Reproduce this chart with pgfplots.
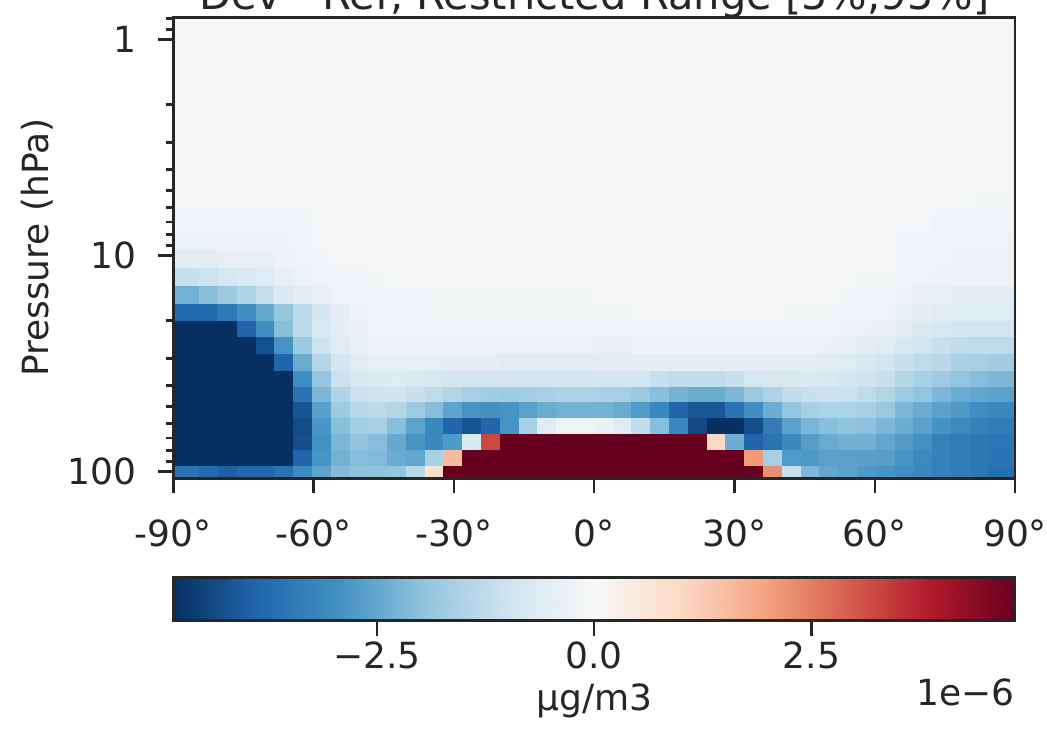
\documentclass[border=0pt]{standalone}
\usepackage{fontspec}
\setmainfont{DejaVu Sans}
\usepackage{pgfplots}
\pgfplotsset{compat=1.18}
\definecolor{ax}{HTML}{262626}
\newcommand\fs{\fontsize{18}{21.6}\selectfont}
\newcommand\ft{\fontsize{20.8}{25}\selectfont}
\pgfplotsset{colormap={rdbur}{rgb255=(5,48,97) rgb255=(33,102,172) rgb255=(67,147,195) rgb255=(146,197,222) rgb255=(209,229,240) rgb255=(247,247,247) rgb255=(253,219,199) rgb255=(244,165,130) rgb255=(214,96,77) rgb255=(178,24,43) rgb255=(103,0,31)}}
\begin{document}
\begin{tikzpicture}
\begin{axis}[
  at={(0,0)}, anchor=south west,
  scale only axis, width=420.9pt, height=230.5pt,
  xmin=-90, xmax=90,
  ymode=log, ymin=0.79, ymax=107.7, y dir=reverse,
  xtick={-90,-60,-30,0,30,60,90},
  xticklabels={-90°,-60°,-30°,0°,30°,60°,90°},
  ytick={1,10,100}, yticklabels={1,10,100},
  minor ytick={0.8,0.9,2,3,4,5,6,7,8,9,20,30,40,50,60,70,80,90},
  xtick pos=bottom, ytick pos=left,
  tick align=outside,
  major tick length=7.5pt, minor tick length=3.8pt,
  every tick/.style={line width=1.25pt, ax},
  axis line style={line width=1.3pt, ax},
  axis on top,
  tick label style={font=\fs, text=ax},
  xticklabel style={yshift=-9.5pt},
  yticklabel style={xshift=-7.5pt},
  ylabel={Pressure (hPa)},
  every axis y label/.style={at={(axis description cs:-0.162,0.5)}, rotate=90, anchor=center, font=\fs, text=ax},
  title={Dev - Ref, Restricted Range [5\%,95\%]},
  every axis title/.style={at={(axis description cs:0.5,1)}, anchor=base, yshift=3.7pt, font=\ft, text=ax},
  colormap name=rdbur,
  point meta min=-4.84, point meta max=4.84,
]
\addplot[surf, shader=flat corner, mesh/cols=45, point meta=explicit] table[x=x, y=y, meta=c] {
x y c
-90 107.7 -3.56
-84.4 107.7 -3.78
-80.4 107.7 -4
-76.4 107.7 -3.85
-72.3 107.7 -3.85
-68.3 107.7 -3.62
-64.3 107.7 -3.1
-60.3 107.7 -2.57
-56.3 107.7 -2.12
-52.2 107.7 -1.98
-48.2 107.7 -1.98
-44.2 107.7 -1.94
-40.2 107.7 -1.35
-36.2 107.7 0.76
-32.2 107.7 4.84
-28.1 107.7 4.84
-24.1 107.7 4.84
-20.1 107.7 4.84
-16.1 107.7 4.84
-12.1 107.7 4.84
-8 107.7 4.84
-4 107.7 4.84
0 107.7 4.84
4 107.7 4.84
8 107.7 4.84
12.1 107.7 4.84
16.1 107.7 4.84
20.1 107.7 4.84
24.1 107.7 4.84
28.1 107.7 4.84
32.2 107.7 4.84
36.2 107.7 2.26
40.2 107.7 -1.1
44.2 107.7 -2.2
48.2 107.7 -2.52
52.2 107.7 -2.6
56.3 107.7 -2.75
60.3 107.7 -2.88
64.3 107.7 -3
68.3 107.7 -3.15
72.3 107.7 -3.3
76.4 107.7 -3.42
80.4 107.7 -3.53
84.4 107.7 -3.7
90 107.7 0
-90 93.5 -4.84
-84.4 93.5 -4.84
-80.4 93.5 -4.84
-76.4 93.5 -4.84
-72.3 93.5 -4.84
-68.3 93.5 -4.84
-64.3 93.5 -3.87
-60.3 93.5 -2.88
-56.3 93.5 -2.33
-52.2 93.5 -2.08
-48.2 93.5 -2.15
-44.2 93.5 -2.43
-40.2 93.5 -2.52
-36.2 93.5 -1.58
-32.2 93.5 1.56
-28.1 93.5 4.84
-24.1 93.5 4.84
-20.1 93.5 4.84
-16.1 93.5 4.84
-12.1 93.5 4.84
-8 93.5 4.84
-4 93.5 4.84
0 93.5 4.84
4 93.5 4.84
8 93.5 4.84
12.1 93.5 4.84
16.1 93.5 4.84
20.1 93.5 4.84
24.1 93.5 4.84
28.1 93.5 4.84
32.2 93.5 2.09
36.2 93.5 -1.63
40.2 93.5 -2.76
44.2 93.5 -2.77
48.2 93.5 -2.62
52.2 93.5 -2.62
56.3 93.5 -2.65
60.3 93.5 -2.68
64.3 93.5 -2.88
68.3 93.5 -3.12
72.3 93.5 -3.3
76.4 93.5 -3.42
80.4 93.5 -3.5
84.4 93.5 -3.62
90 93.5 0
-90 79.1 -4.84
-84.4 79.1 -4.84
-80.4 79.1 -4.84
-76.4 79.1 -4.84
-72.3 79.1 -4.84
-68.3 79.1 -4.84
-64.3 79.1 -4.3
-60.3 79.1 -2.95
-56.3 79.1 -2.2
-52.2 79.1 -1.95
-48.2 79.1 -2.08
-44.2 79.1 -2.48
-40.2 79.1 -2.88
-36.2 79.1 -3.15
-32.2 79.1 -2.77
-28.1 79.1 -0.77
-24.1 79.1 3.22
-20.1 79.1 4.84
-16.1 79.1 4.84
-12.1 79.1 4.84
-8 79.1 4.84
-4 79.1 4.84
0 79.1 4.84
4 79.1 4.84
8 79.1 4.84
12.1 79.1 4.84
16.1 79.1 4.84
20.1 79.1 4.84
24.1 79.1 1
28.1 79.1 -2.38
32.2 79.1 -3.87
36.2 79.1 -3.62
40.2 79.1 -3.15
44.2 79.1 -2.68
48.2 79.1 -2.45
52.2 79.1 -2.35
56.3 79.1 -2.35
60.3 79.1 -2.52
64.3 79.1 -2.76
68.3 79.1 -2.95
72.3 79.1 -3.28
76.4 79.1 -3.42
80.4 79.1 -3.5
84.4 79.1 -3.56
90 79.1 0
-90 66.7 -4.84
-84.4 66.7 -4.84
-80.4 66.7 -4.84
-76.4 66.7 -4.84
-72.3 66.7 -4.84
-68.3 66.7 -4.84
-64.3 66.7 -4.36
-60.3 66.7 -2.87
-56.3 66.7 -2.04
-52.2 66.7 -1.66
-48.2 66.7 -1.63
-44.2 66.7 -2.05
-40.2 66.7 -2.58
-36.2 66.7 -3.15
-32.2 66.7 -3.87
-28.1 66.7 -4.2
-24.1 66.7 -3.87
-20.1 66.7 -2.88
-16.1 66.7 -1.58
-12.1 66.7 -0.61
-8 66.7 -0.23
-4 66.7 -0.23
0 66.7 -0.33
4 66.7 -0.61
8 66.7 -1.21
12.1 66.7 -2.08
16.1 66.7 -3.15
20.1 66.7 -4.4
24.1 66.7 -4.84
28.1 66.7 -4.84
32.2 66.7 -4.3
36.2 66.7 -3.42
40.2 66.7 -2.62
44.2 66.7 -2.23
48.2 66.7 -2.04
52.2 66.7 -1.95
56.3 66.7 -2
60.3 66.7 -2.2
64.3 66.7 -2.43
68.3 66.7 -2.62
72.3 66.7 -2.9
76.4 66.7 -3.12
80.4 66.7 -3.28
84.4 66.7 -3.42
90 66.7 0
-90 56.2 -4.84
-84.4 56.2 -4.84
-80.4 56.2 -4.84
-76.4 56.2 -4.84
-72.3 56.2 -4.84
-68.3 56.2 -4.84
-64.3 56.2 -4.2
-60.3 56.2 -2.64
-56.3 56.2 -1.78
-52.2 56.2 -1.36
-48.2 56.2 -1.31
-44.2 56.2 -1.43
-40.2 56.2 -1.75
-36.2 56.2 -2.08
-32.2 56.2 -2.57
-28.1 56.2 -2.88
-24.1 56.2 -2.97
-20.1 56.2 -2.88
-16.1 56.2 -2.62
-12.1 56.2 -2.43
-8 56.2 -2.32
-4 56.2 -2.32
0 56.2 -2.3
4 56.2 -2.45
8 56.2 -2.76
12.1 56.2 -3.15
16.1 56.2 -3.87
20.1 56.2 -4.15
24.1 56.2 -4.15
28.1 56.2 -3.62
32.2 56.2 -3
36.2 56.2 -2.38
40.2 56.2 -1.9
44.2 56.2 -1.6
48.2 56.2 -1.52
52.2 56.2 -1.52
56.3 56.2 -1.6
60.3 56.2 -1.81
64.3 56.2 -2.2
68.3 56.2 -2.43
72.3 56.2 -2.62
76.4 56.2 -2.77
80.4 56.2 -3
84.4 56.2 -3.15
90 56.2 0
-90 47.6 -4.84
-84.4 47.6 -4.84
-80.4 47.6 -4.84
-76.4 47.6 -4.84
-72.3 47.6 -4.84
-68.3 47.6 -4.84
-64.3 47.6 -3.62
-60.3 47.6 -2.2
-56.3 47.6 -1.46
-52.2 47.6 -1.05
-48.2 47.6 -0.97
-44.2 47.6 -0.98
-40.2 47.6 -1.1
-36.2 47.6 -1.24
-32.2 47.6 -1.43
-28.1 47.6 -1.6
-24.1 47.6 -1.7
-20.1 47.6 -1.75
-16.1 47.6 -1.68
-12.1 47.6 -1.58
-8 47.6 -1.55
-4 47.6 -1.55
0 47.6 -1.58
4 47.6 -1.63
8 47.6 -1.81
12.1 47.6 -2.04
16.1 47.6 -2.3
20.1 47.6 -2.43
24.1 47.6 -2.43
28.1 47.6 -2.2
32.2 47.6 -1.81
36.2 47.6 -1.5
40.2 47.6 -1.21
44.2 47.6 -1.1
48.2 47.6 -1.05
52.2 47.6 -1.08
56.3 47.6 -1.25
60.3 47.6 -1.43
64.3 47.6 -1.75
68.3 47.6 -1.94
72.3 47.6 -2.2
76.4 47.6 -2.43
80.4 47.6 -2.52
84.4 47.6 -2.6
90 47.6 0
-90 40.5 -4.84
-84.4 40.5 -4.84
-80.4 40.5 -4.84
-76.4 40.5 -4.84
-72.3 40.5 -4.84
-68.3 40.5 -4.84
-64.3 40.5 -3.03
-60.3 40.5 -1.9
-56.3 40.5 -1.08
-52.2 40.5 -0.8
-48.2 40.5 -0.69
-44.2 40.5 -0.66
-40.2 40.5 -0.7
-36.2 40.5 -0.84
-32.2 40.5 -0.91
-28.1 40.5 -0.91
-24.1 40.5 -0.91
-20.1 40.5 -0.94
-16.1 40.5 -0.94
-12.1 40.5 -0.94
-8 40.5 -0.91
-4 40.5 -0.91
0 40.5 -0.88
4 40.5 -0.88
8 40.5 -0.9
12.1 40.5 -1.13
16.1 40.5 -1.21
20.1 40.5 -1.21
24.1 40.5 -1.21
28.1 40.5 -1.1
32.2 40.5 -0.86
36.2 40.5 -0.8
40.2 40.5 -0.75
44.2 40.5 -0.71
48.2 40.5 -0.75
52.2 40.5 -0.88
56.3 40.5 -1
60.3 40.5 -1.13
64.3 40.5 -1.43
68.3 40.5 -1.58
72.3 40.5 -1.75
76.4 40.5 -1.92
80.4 40.5 -2.08
84.4 40.5 -2.2
90 40.5 0
-90 34 -4.84
-84.4 34 -4.84
-80.4 34 -4.84
-76.4 34 -4.84
-72.3 34 -4.84
-68.3 34 -3.87
-64.3 34 -2.43
-60.3 34 -1.41
-56.3 34 -0.89
-52.2 34 -0.56
-48.2 34 -0.44
-44.2 34 -0.44
-40.2 34 -0.44
-36.2 34 -0.44
-32.2 34 -0.48
-28.1 34 -0.48
-24.1 34 -0.48
-20.1 34 -0.52
-16.1 34 -0.52
-12.1 34 -0.52
-8 34 -0.55
-4 34 -0.55
0 34 -0.48
4 34 -0.48
8 34 -0.48
12.1 34 -0.48
16.1 34 -0.48
20.1 34 -0.48
24.1 34 -0.48
28.1 34 -0.46
32.2 34 -0.46
36.2 34 -0.46
40.2 34 -0.46
44.2 34 -0.46
48.2 34 -0.55
52.2 34 -0.65
56.3 34 -0.8
60.3 34 -0.94
64.3 34 -1.13
68.3 34 -1.26
72.3 34 -1.36
76.4 34 -1.58
80.4 34 -1.63
84.4 34 -1.71
90 34 0
-90 28.4 -4.84
-84.4 28.4 -4.84
-80.4 28.4 -4.84
-76.4 28.4 -4.84
-72.3 28.4 -4.25
-68.3 28.4 -2.88
-64.3 28.4 -1.8
-60.3 28.4 -1
-56.3 28.4 -0.61
-52.2 28.4 -0.41
-48.2 28.4 -0.31
-44.2 28.4 -0.3
-40.2 28.4 -0.3
-36.2 28.4 -0.3
-32.2 28.4 -0.3
-28.1 28.4 -0.3
-24.1 28.4 -0.3
-20.1 28.4 -0.3
-16.1 28.4 -0.3
-12.1 28.4 -0.3
-8 28.4 -0.3
-4 28.4 -0.3
0 28.4 -0.36
4 28.4 -0.36
8 28.4 -0.29
12.1 28.4 -0.29
16.1 28.4 -0.29
20.1 28.4 -0.29
24.1 28.4 -0.29
28.1 28.4 -0.29
32.2 28.4 -0.29
36.2 28.4 -0.29
40.2 28.4 -0.29
44.2 28.4 -0.29
48.2 28.4 -0.33
52.2 28.4 -0.4
56.3 28.4 -0.5
60.3 28.4 -0.61
64.3 28.4 -0.79
68.3 28.4 -0.91
72.3 28.4 -1.13
76.4 28.4 -1.23
80.4 28.4 -1.28
84.4 28.4 -1.28
90 28.4 0
-90 23.6 -4.84
-84.4 23.6 -4.84
-80.4 23.6 -4.84
-76.4 23.6 -3.9
-72.3 23.6 -3
-68.3 23.6 -2.06
-64.3 23.6 -1.29
-60.3 23.6 -0.74
-56.3 23.6 -0.46
-52.2 23.6 -0.33
-48.2 23.6 -0.23
-44.2 23.6 -0.2
-40.2 23.6 -0.2
-36.2 23.6 -0.2
-32.2 23.6 -0.2
-28.1 23.6 -0.2
-24.1 23.6 -0.2
-20.1 23.6 -0.2
-16.1 23.6 -0.2
-12.1 23.6 -0.2
-8 23.6 -0.2
-4 23.6 -0.2
0 23.6 -0.2
4 23.6 -0.2
8 23.6 -0.18
12.1 23.6 -0.18
16.1 23.6 -0.18
20.1 23.6 -0.18
24.1 23.6 -0.18
28.1 23.6 -0.18
32.2 23.6 -0.18
36.2 23.6 -0.18
40.2 23.6 -0.18
44.2 23.6 -0.18
48.2 23.6 -0.22
52.2 23.6 -0.26
56.3 23.6 -0.32
60.3 23.6 -0.38
64.3 23.6 -0.56
68.3 23.6 -0.71
72.3 23.6 -0.79
76.4 23.6 -0.91
80.4 23.6 -0.91
84.4 23.6 -0.91
90 23.6 0
-90 19.9 -3.78
-84.4 19.9 -3.78
-80.4 19.9 -3.48
-76.4 19.9 -3
-72.3 19.9 -2.48
-68.3 19.9 -1.92
-64.3 19.9 -1.32
-60.3 19.9 -0.89
-56.3 19.9 -0.46
-52.2 19.9 -0.31
-48.2 19.9 -0.2
-44.2 19.9 -0.15
-40.2 19.9 -0.15
-36.2 19.9 -0.13
-32.2 19.9 -0.13
-28.1 19.9 -0.13
-24.1 19.9 -0.13
-20.1 19.9 -0.13
-16.1 19.9 -0.13
-12.1 19.9 -0.13
-8 19.9 -0.13
-4 19.9 -0.13
0 19.9 -0.12
4 19.9 -0.12
8 19.9 -0.1
12.1 19.9 -0.1
16.1 19.9 -0.1
20.1 19.9 -0.1
24.1 19.9 -0.1
28.1 19.9 -0.1
32.2 19.9 -0.1
36.2 19.9 -0.1
40.2 19.9 -0.12
44.2 19.9 -0.12
48.2 19.9 -0.13
52.2 19.9 -0.16
56.3 19.9 -0.2
60.3 19.9 -0.23
64.3 19.9 -0.38
68.3 19.9 -0.46
72.3 19.9 -0.56
76.4 19.9 -0.66
80.4 19.9 -0.66
84.4 19.9 -0.66
90 19.9 0
-90 16.6 -2.33
-84.4 16.6 -2.05
-80.4 16.6 -1.81
-76.4 16.6 -1.49
-72.3 16.6 -1.15
-68.3 16.6 -0.74
-64.3 16.6 -0.51
-60.3 16.6 -0.33
-56.3 16.6 -0.23
-52.2 16.6 -0.18
-48.2 16.6 -0.15
-44.2 16.6 -0.14
-40.2 16.6 -0.14
-36.2 16.6 -0.12
-32.2 16.6 -0.12
-28.1 16.6 -0.12
-24.1 16.6 -0.12
-20.1 16.6 -0.12
-16.1 16.6 -0.12
-12.1 16.6 -0.12
-8 16.6 -0.12
-4 16.6 -0.12
0 16.6 -0.1
4 16.6 -0.1
8 16.6 -0.1
12.1 16.6 -0.05
16.1 16.6 -0.05
20.1 16.6 -0.05
24.1 16.6 -0.05
28.1 16.6 -0.05
32.2 16.6 -0.05
36.2 16.6 -0.09
40.2 16.6 -0.09
44.2 16.6 -0.09
48.2 16.6 -0.1
52.2 16.6 -0.12
56.3 16.6 -0.15
60.3 16.6 -0.18
64.3 16.6 -0.28
68.3 16.6 -0.36
72.3 16.6 -0.41
76.4 16.6 -0.48
80.4 16.6 -0.48
84.4 16.6 -0.48
90 16.6 0
-90 13.7 -1.13
-84.4 13.7 -1.03
-80.4 13.7 -0.84
-76.4 13.7 -0.74
-72.3 13.7 -0.58
-68.3 13.7 -0.44
-64.3 13.7 -0.31
-60.3 13.7 -0.23
-56.3 13.7 -0.18
-52.2 13.7 -0.15
-48.2 13.7 -0.13
-44.2 13.7 -0.1
-40.2 13.7 -0.1
-36.2 13.7 -0.1
-32.2 13.7 -0.1
-28.1 13.7 -0.1
-24.1 13.7 -0.1
-20.1 13.7 -0.1
-16.1 13.7 -0.1
-12.1 13.7 -0.1
-8 13.7 -0.1
-4 13.7 -0.1
0 13.7 -0.06
4 13.7 -0.06
8 13.7 -0.06
12.1 13.7 -0.06
16.1 13.7 -0.06
20.1 13.7 -0.06
24.1 13.7 -0.06
28.1 13.7 -0.06
32.2 13.7 -0.06
36.2 13.7 -0.06
40.2 13.7 -0.06
44.2 13.7 -0.06
48.2 13.7 -0.08
52.2 13.7 -0.1
56.3 13.7 -0.12
60.3 13.7 -0.13
64.3 13.7 -0.23
68.3 13.7 -0.23
72.3 13.7 -0.28
76.4 13.7 -0.28
80.4 13.7 -0.28
84.4 13.7 -0.28
90 13.7 0
-90 11.4 -0.5
-84.4 11.4 -0.5
-80.4 11.4 -0.41
-76.4 11.4 -0.36
-72.3 11.4 -0.36
-68.3 11.4 -0.26
-64.3 11.4 -0.2
-60.3 11.4 -0.15
-56.3 11.4 -0.1
-52.2 11.4 -0.1
-48.2 11.4 -0.1
-44.2 11.4 -0.1
-40.2 11.4 -0.1
-36.2 11.4 -0.1
-32.2 11.4 -0.1
-28.1 11.4 -0.1
-24.1 11.4 -0.1
-20.1 11.4 -0.1
-16.1 11.4 -0.1
-12.1 11.4 -0.1
-8 11.4 -0.1
-4 11.4 -0.1
0 11.4 -0.05
4 11.4 -0.05
8 11.4 -0.05
12.1 11.4 -0.05
16.1 11.4 -0.05
20.1 11.4 -0.05
24.1 11.4 -0.05
28.1 11.4 -0.05
32.2 11.4 -0.05
36.2 11.4 -0.05
40.2 11.4 -0.05
44.2 11.4 -0.05
48.2 11.4 -0.07
52.2 11.4 -0.08
56.3 11.4 -0.09
60.3 11.4 -0.1
64.3 11.4 -0.2
68.3 11.4 -0.2
72.3 11.4 -0.2
76.4 11.4 -0.26
80.4 11.4 -0.26
84.4 11.4 -0.26
90 11.4 0
-90 9.35 -0.28
-84.4 9.35 -0.28
-80.4 9.35 -0.25
-76.4 9.35 -0.25
-72.3 9.35 -0.25
-68.3 9.35 -0.25
-64.3 9.35 -0.18
-60.3 9.35 -0.1
-56.3 9.35 -0.1
-52.2 9.35 -0.1
-48.2 9.35 -0.1
-44.2 9.35 -0.07
-40.2 9.35 -0.07
-36.2 9.35 -0.07
-32.2 9.35 -0.07
-28.1 9.35 -0.07
-24.1 9.35 -0.07
-20.1 9.35 -0.07
-16.1 9.35 -0.07
-12.1 9.35 -0.07
-8 9.35 -0.07
-4 9.35 -0.07
0 9.35 -0.05
4 9.35 -0.05
8 9.35 -0.05
12.1 9.35 -0.05
16.1 9.35 -0.05
20.1 9.35 -0.05
24.1 9.35 -0.05
28.1 9.35 -0.05
32.2 9.35 -0.05
36.2 9.35 -0.05
40.2 9.35 -0.05
44.2 9.35 -0.05
48.2 9.35 -0.06
52.2 9.35 -0.07
56.3 9.35 -0.07
60.3 9.35 -0.08
64.3 9.35 -0.15
68.3 9.35 -0.15
72.3 9.35 -0.2
76.4 9.35 -0.2
80.4 9.35 -0.2
84.4 9.35 -0.2
90 9.35 0
-90 7.72 -0.15
-84.4 7.72 -0.15
-80.4 7.72 -0.15
-76.4 7.72 -0.15
-72.3 7.72 -0.15
-68.3 7.72 -0.15
-64.3 7.72 -0.15
-60.3 7.72 -0.08
-56.3 7.72 -0.08
-52.2 7.72 -0.08
-48.2 7.72 -0.08
-44.2 7.72 -0.07
-40.2 7.72 -0.07
-36.2 7.72 -0.07
-32.2 7.72 -0.07
-28.1 7.72 -0.07
-24.1 7.72 -0.07
-20.1 7.72 -0.07
-16.1 7.72 -0.07
-12.1 7.72 -0.07
-8 7.72 -0.07
-4 7.72 -0.07
0 7.72 -0.05
4 7.72 -0.05
8 7.72 -0.05
12.1 7.72 -0.05
16.1 7.72 -0.05
20.1 7.72 -0.05
24.1 7.72 -0.05
28.1 7.72 -0.05
32.2 7.72 -0.05
36.2 7.72 -0.05
40.2 7.72 -0.05
44.2 7.72 -0.05
48.2 7.72 -0.07
52.2 7.72 -0.07
56.3 7.72 -0.07
60.3 7.72 -0.07
64.3 7.72 -0.08
68.3 7.72 -0.1
72.3 7.72 -0.15
76.4 7.72 -0.18
80.4 7.72 -0.18
84.4 7.72 -0.18
90 7.72 0
-90 6.17 -0.07
-84.4 6.17 -0.07
-80.4 6.17 -0.07
-76.4 6.17 -0.07
-72.3 6.17 -0.07
-68.3 6.17 -0.07
-64.3 6.17 -0.07
-60.3 6.17 -0.07
-56.3 6.17 -0.07
-52.2 6.17 -0.07
-48.2 6.17 -0.07
-44.2 6.17 -0.05
-40.2 6.17 -0.05
-36.2 6.17 -0.05
-32.2 6.17 -0.05
-28.1 6.17 -0.05
-24.1 6.17 -0.05
-20.1 6.17 -0.05
-16.1 6.17 -0.05
-12.1 6.17 -0.05
-8 6.17 -0.05
-4 6.17 -0.05
0 6.17 -0.05
4 6.17 -0.05
8 6.17 -0.05
12.1 6.17 -0.05
16.1 6.17 -0.05
20.1 6.17 -0.05
24.1 6.17 -0.05
28.1 6.17 -0.05
32.2 6.17 -0.05
36.2 6.17 -0.05
40.2 6.17 -0.05
44.2 6.17 -0.05
48.2 6.17 -0.05
52.2 6.17 -0.05
56.3 6.17 -0.05
60.3 6.17 -0.05
64.3 6.17 -0.05
68.3 6.17 -0.08
72.3 6.17 -0.08
76.4 6.17 -0.1
80.4 6.17 -0.13
84.4 6.17 -0.13
90 6.17 0
-90 5.09 -0.04
-84.4 5.09 -0.04
-80.4 5.09 -0.04
-76.4 5.09 -0.04
-72.3 5.09 -0.04
-68.3 5.09 -0.04
-64.3 5.09 -0.04
-60.3 5.09 -0.04
-56.3 5.09 -0.04
-52.2 5.09 -0.04
-48.2 5.09 -0.04
-44.2 5.09 -0.04
-40.2 5.09 -0.04
-36.2 5.09 -0.04
-32.2 5.09 -0.04
-28.1 5.09 -0.04
-24.1 5.09 -0.04
-20.1 5.09 -0.04
-16.1 5.09 -0.04
-12.1 5.09 -0.04
-8 5.09 -0.04
-4 5.09 -0.04
0 5.09 -0.04
4 5.09 -0.04
8 5.09 -0.04
12.1 5.09 -0.04
16.1 5.09 -0.04
20.1 5.09 -0.04
24.1 5.09 -0.04
28.1 5.09 -0.04
32.2 5.09 -0.04
36.2 5.09 -0.04
40.2 5.09 -0.04
44.2 5.09 -0.04
48.2 5.09 -0.04
52.2 5.09 -0.04
56.3 5.09 -0.04
60.3 5.09 -0.04
64.3 5.09 -0.04
68.3 5.09 -0.04
72.3 5.09 -0.04
76.4 5.09 -0.04
80.4 5.09 -0.08
84.4 5.09 -0.08
90 5.09 0
-90 0.79 0
-84.4 0.79 0
-80.4 0.79 0
-76.4 0.79 0
-72.3 0.79 0
-68.3 0.79 0
-64.3 0.79 0
-60.3 0.79 0
-56.3 0.79 0
-52.2 0.79 0
-48.2 0.79 0
-44.2 0.79 0
-40.2 0.79 0
-36.2 0.79 0
-32.2 0.79 0
-28.1 0.79 0
-24.1 0.79 0
-20.1 0.79 0
-16.1 0.79 0
-12.1 0.79 0
-8 0.79 0
-4 0.79 0
0 0.79 0
4 0.79 0
8 0.79 0
12.1 0.79 0
16.1 0.79 0
20.1 0.79 0
24.1 0.79 0
28.1 0.79 0
32.2 0.79 0
36.2 0.79 0
40.2 0.79 0
44.2 0.79 0
48.2 0.79 0
52.2 0.79 0
56.3 0.79 0
60.3 0.79 0
64.3 0.79 0
68.3 0.79 0
72.3 0.79 0
76.4 0.79 0
80.4 0.79 0
84.4 0.79 0
90 0.79 0
};
\end{axis}
\begin{axis}[
  name=cb,
  at={(0,-49.6pt)}, anchor=north west,
  scale only axis, width=420.9pt, height=21.5pt,
  xmin=-4.84, xmax=4.84, ymin=0, ymax=1,
  ytick=\empty,
  xtick={-2.5,0,2.5}, xticklabels={−2.5,0.0,2.5},
  xtick pos=bottom, tick align=outside, major tick length=7.5pt,
  every tick/.style={line width=1.25pt, ax},
  axis line style={line width=1.3pt, ax},
  axis on top,
  tick label style={font=\fs, text=ax},
  xticklabel style={yshift=0.5pt},
  colormap name=rdbur,
  point meta min=-4.84, point meta max=4.84,
  xlabel={µg/m3},
  every axis x label/.style={at={(axis description cs:0.5,0)}, anchor=center, yshift=-40pt, font=\fs, text=ax},
]
\addplot[surf, shader=interp, mesh/cols=11, point meta=x] coordinates {
(-4.84,0) (-3.872,0) (-2.904,0) (-1.936,0) (-0.968,0) (0,0) (0.968,0) (1.936,0) (2.904,0) (3.872,0) (4.84,0)
(-4.84,1) (-3.872,1) (-2.904,1) (-1.936,1) (-0.968,1) (0,1) (0.968,1) (1.936,1) (2.904,1) (3.872,1) (4.84,1)
};
\end{axis}
\node[anchor=east, font=\fs, text=ax, inner sep=0pt, yshift=-36pt] at (cb.south east) {1e−6};
\pgfresetboundingbox
\path[use as bounding box] (-86.65pt,-132.85pt) rectangle (436.85pt,239.15pt);
\end{tikzpicture}
\end{document}
